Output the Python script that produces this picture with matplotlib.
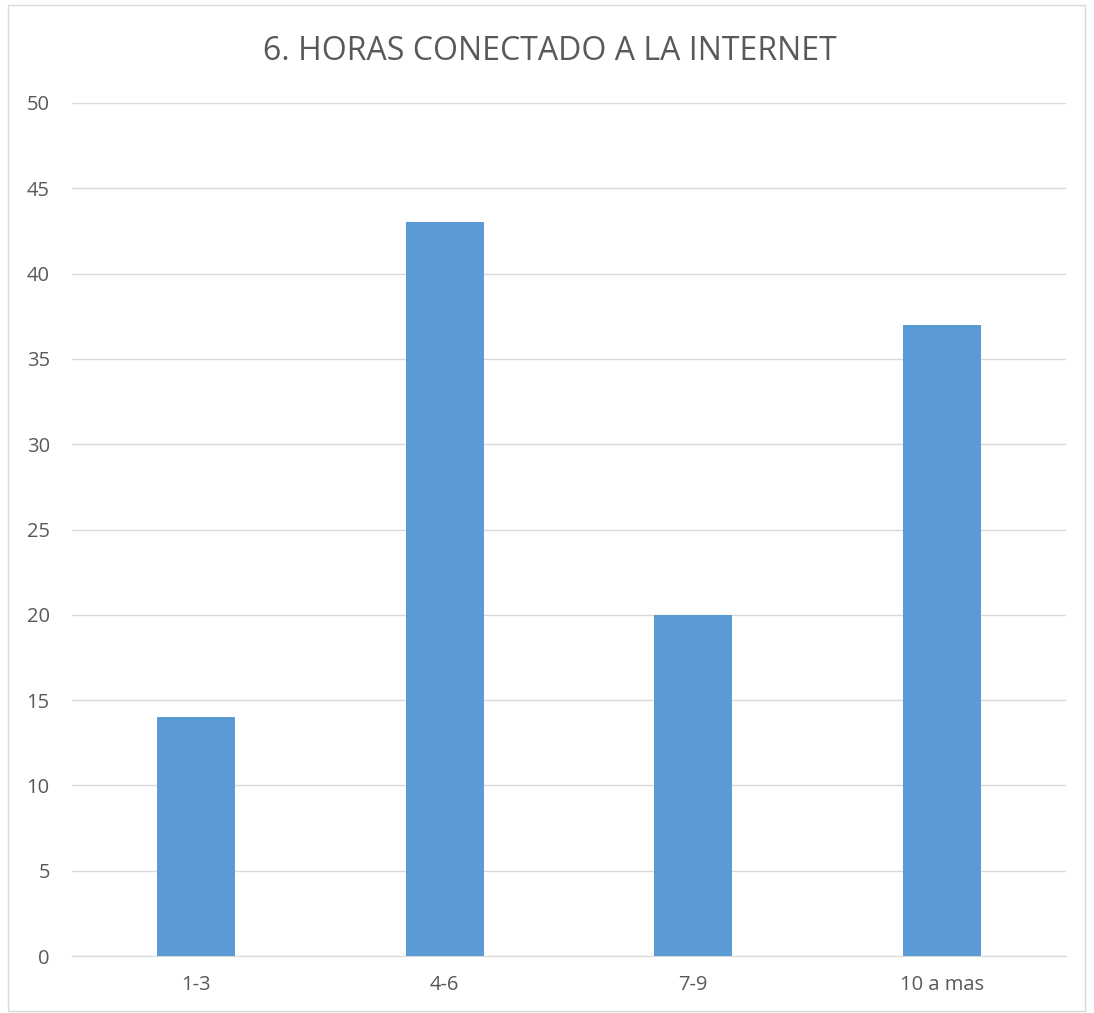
import matplotlib
matplotlib.use("Agg")
import matplotlib.pyplot as plt
from matplotlib.patches import Rectangle

categories = ["1-3", "4-6", "7-9", "10 a mas"]
values = [14, 43, 20, 37]
yticks = [0, 5, 10, 15, 20, 25, 30, 35, 40, 45, 50]
title = "6. HORAS CONECTADO A LA INTERNET"

plt.rcParams['font.family'] = ['Open Sans', 'DejaVu Sans']
W, H = 1094, 1013
fig = plt.figure(figsize=(W/100, H/100), dpi=100)
fig.patch.set_facecolor('white')
fig.patches.append(Rectangle((8/W, 0.002), (1085-8)/W, 1 - 5/H - 0.002, transform=fig.transFigure,
                             fill=False, edgecolor='#D9D9D9', linewidth=1))

ax = fig.add_axes([72/W, 1-956/H, (1066-72)/W, (956-103)/H])
x = list(range(len(categories)))
ax.bar(x, values, width=0.315, color='#5B9BD5', zorder=3)
ax.set_xlim(-0.5, len(categories)-0.5)
ax.set_ylim(0, 50)
ax.set_yticks(yticks)
ax.set_xticks(x)
ax.set_xticklabels(categories)
ax.yaxis.grid(True, color='#D9D9D9', linewidth=1, zorder=0)
for s in ['top', 'right', 'left']:
    ax.spines[s].set_visible(False)
ax.spines['bottom'].set_color('#D9D9D9')
ax.tick_params(axis='both', length=0, labelsize=14.5, colors='#595959')
ax.tick_params(axis='y', pad=16)
ax.tick_params(axis='x', pad=14)
fig.text(0.503, 1-51/H, title, ha='center', va='center', fontsize=23, color='#595959')
fig.savefig("out.png", dpi=100)
